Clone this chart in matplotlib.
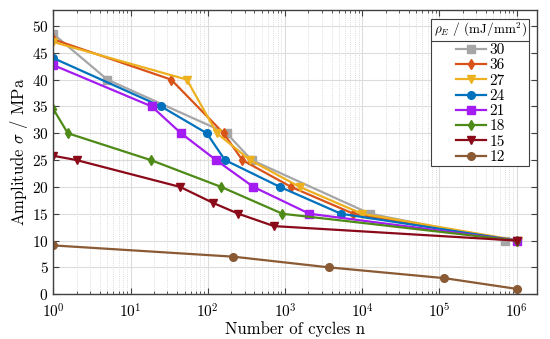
import matplotlib
matplotlib.use("Agg")
import matplotlib.pyplot as plt
from matplotlib.lines import Line2D

plt.rcParams["font.family"] = "serif"
plt.rcParams["font.serif"] = ["cmr10", "DejaVu Serif"]
plt.rcParams["mathtext.fontset"] = "cm"
plt.rcParams["axes.formatter.use_mathtext"] = True

labels = ["30", "36", "27", "24", "21", "18", "15", "12"]
colors = ["#a6a6a6", "#d95319", "#edb120", "#0072bd", "#a31cf2", "#4e8a17", "#8b0a1a", "#8a5a34"]
markers = ["s", "d", "v", "o", "s", "d", "v", "o"]

n_30 = [1, 5, 175, 370, 12600, 7e5]
s_30 = [48.5, 40, 30, 25, 15, 10]
n_36 = [1, 33.5, 160, 280, 1200, 7700, 1e6]
s_36 = [47.5, 40, 30, 25, 20, 15, 10]
n_27 = [1, 53.5, 131, 353, 1550, 9900, 1.05e6]
s_27 = [47, 40, 30, 25, 20, 15, 10]
n_24 = [1, 24.8, 97, 167, 860, 5300, 1e6]
s_24 = [44, 35, 30, 25, 20, 15, 10]
n_21 = [1, 18.8, 45, 128, 390, 2070, 1e6]
s_21 = [42.7, 35, 30, 25, 20, 15, 10]
n_18 = [1, 1.54, 18.3, 149, 926, 1e6]
s_18 = [34.5, 30, 25, 20, 15, 10]
n_15 = [1, 2, 43.8, 118, 249, 720, 1e6]
s_15 = [25.8, 25, 20, 17, 15, 12.7, 10]
n_12 = [1, 215, 3760, 1.16e5, 1e6]
s_12 = [9.1, 7, 5, 3, 1]

series_n = [n_30, n_36, n_27, n_24, n_21, n_18, n_15, n_12]
series_s = [s_30, s_36, s_27, s_24, s_21, s_18, s_15, s_12]

fig = plt.figure(figsize=(5.5, 3.39), dpi=100)
ax = fig.add_axes([0.097, 0.132, 0.88, 0.839])

for n, s, lab, c, m in zip(series_n, series_s, labels, colors, markers):
    ax.plot(n, s, color=c, marker=m, lw=1.6, ms=5.5, label=lab)

ax.set_xscale("log")
ax.set_xlim(1, 1.85e6)
ax.set_ylim(0, 53)
ax.set_yticks(range(0, 51, 5))
ax.grid(True, which="major", color="#dcdcdc", lw=0.8)
ax.grid(True, which="minor", color="#d0d0d0", lw=0.6, ls=":")
ax.set_axisbelow(True)
ax.tick_params(which="both", direction="in", top=True, right=True,
               colors="#404040", labelcolor="black", labelsize=11)
ax.tick_params(which="major", length=4)
ax.tick_params(which="minor", length=2)
ax.tick_params(axis="x", which="major", pad=6)
for sp in ax.spines.values():
    sp.set_color("#404040")
    sp.set_linewidth(1.0)

ax.set_xlabel("Number of cycles n", fontsize=12, labelpad=0)
ax.set_ylabel(r"Amplitude $\sigma$ / MPa", fontsize=12, labelpad=1)

leg = ax.legend(title=r"$\rho_E$ / (mJ/mm$^2$)", loc="upper right",
                bbox_to_anchor=(0.983, 0.968), borderaxespad=0, fontsize=11,
                title_fontsize=9.5, handlelength=2.0, labelspacing=0.1,
                handletextpad=0.2, fancybox=False, edgecolor="#404040",
                framealpha=1, borderpad=0.15)
leg.get_frame().set_linewidth(0.8)
leg._legend_box.sep = 3
fig.canvas.draw()
r = fig.canvas.get_renderer()
bb = leg.get_window_extent(r)
tb = leg.get_title().get_window_extent(r)
hb = leg._legend_handle_box.get_window_extent(r)
ysep = (tb.y0 + hb.y1) / 2 / fig.bbox.height
fig.add_artist(Line2D([bb.x0 / fig.bbox.width, bb.x1 / fig.bbox.width], [ysep, ysep],
                      transform=fig.transFigure, color="#404040", lw=0.8))

fig.savefig("out.png", dpi=100)
